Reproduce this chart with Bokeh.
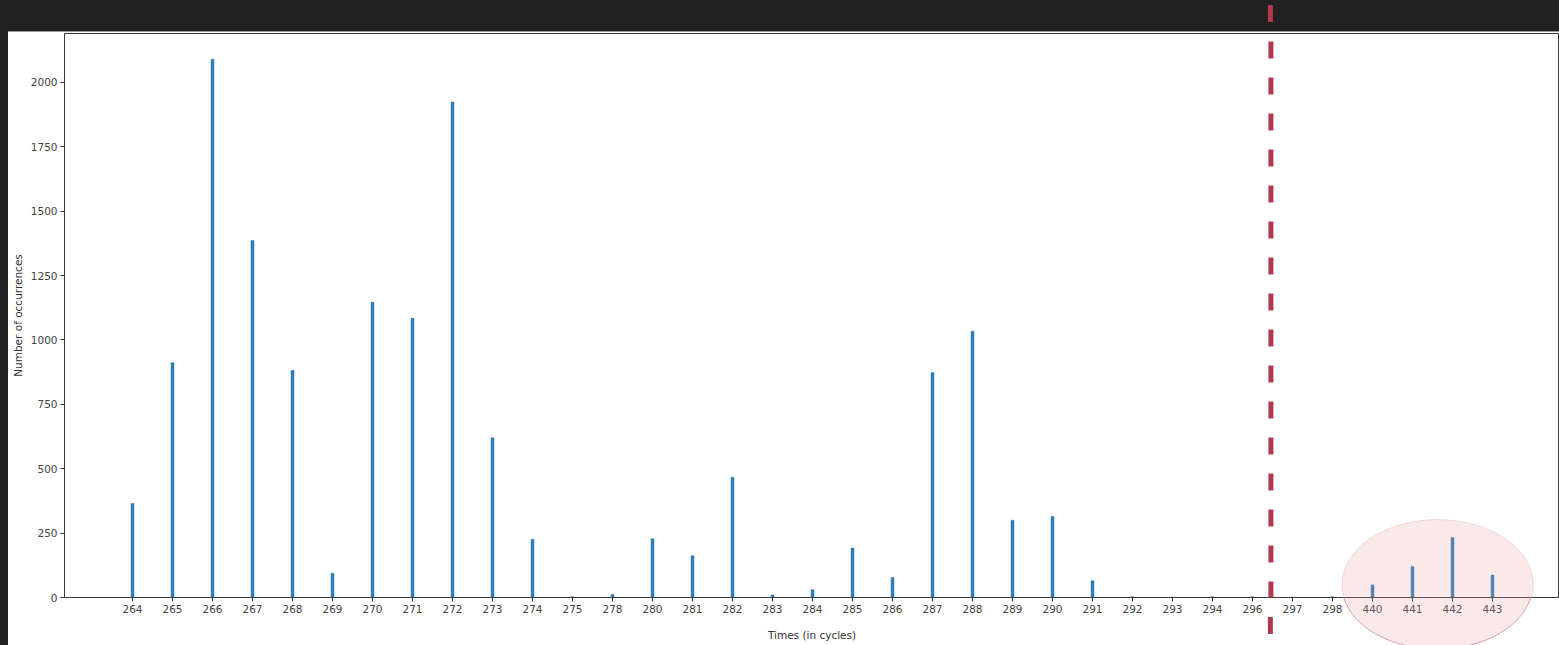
import numpy as np
from bokeh.plotting import figure
from bokeh.models import Range1d, FixedTicker, Arrow, PolyAnnotation, Div
from bokeh.layouts import column
from bokeh.embed import file_html
from bokeh.resources import INLINE

# ---------------- data ----------------
cycles = ["264", "265", "266", "267", "268", "269", "270", "271", "272", "273",
          "274", "275", "278", "280", "281", "282", "283", "284", "285", "286",
          "287", "288", "289", "290", "291", "292", "293", "294", "296", "297",
          "298", "440", "441", "442", "443"]
occurrences = [365, 912, 2090, 1386, 882, 94, 1146, 1084, 1924, 620,
               226, 3, 12, 228, 162, 467, 10, 30, 192, 78,
               873, 1034, 300, 315, 65, 3, 2, 3, 3, 2,
               3, 49, 120, 233, 87]
y_ticks = [0, 250, 500, 750, 1000, 1250, 1500, 1750, 2000]

# annotation positions (category-index units / value units)
threshold_pos = 28.46            # dashed separator between 296 and 297
highlight_center = (32.63, 50)   # ellipse around 440-443
highlight_size = (4.78, 505)

FONT = "DejaVu Sans"
W, H = 1559, 645
B_LEFT, B_TOP, B_BOTTOM = 64, 33, 48
X0, X1 = -1.7, 35.675
Y0, Y1 = 0, 2190
xpos = list(range(len(cycles)))

fw = W - B_LEFT
fh = H - B_TOP - B_BOTTOM
def sx(v):
    return B_LEFT + (v - X0) / (X1 - X0) * fw
def sy(v):
    return B_TOP + (Y1 - v) / (Y1 - Y0) * fh
def vy(py):
    return Y1 - (py - B_TOP) / fh * (Y1 - Y0)

p = figure(width=W, height=H, output_backend="svg", toolbar_location=None,
           x_range=Range1d(X0, X1), y_range=Range1d(Y0, Y1),
           min_border_left=B_LEFT, min_border_right=0, min_border_top=B_TOP,
           min_border_bottom=B_BOTTOM)
p.border_fill_color = "white"
p.background_fill_color = "white"
p.outline_line_color = "#3a3a3a"
p.outline_line_width = 1
p.grid.visible = False

p.vbar(x=xpos, top=occurrences, width=0.075, fill_color="#2f7cb6",
       line_color="#2f7cb6", line_width=0.5)

# axes
p.xaxis.ticker = FixedTicker(ticks=xpos)
p.xaxis.major_label_overrides = {i: c for i, c in enumerate(cycles)}
p.yaxis.ticker = FixedTicker(ticks=y_ticks)
for ax in (p.xaxis[0], p.yaxis[0]):
    ax.minor_tick_line_color = None
    ax.major_tick_in = 0
    ax.major_tick_out = 4
    ax.major_tick_line_color = "#333333"
    ax.axis_line_color = "#3a3a3a"
    ax.major_label_text_font = FONT
    ax.major_label_text_font_size = "10.5px"
    ax.major_label_text_color = "#444444"
    ax.major_label_standoff = 3
    ax.axis_label_text_font = FONT
    ax.axis_label_text_font_size = "10.5px"
    ax.axis_label_text_font_style = "normal"
    ax.axis_label_text_color = "#333333"
p.xaxis.axis_label = "Times (in cycles)"
p.xaxis.axis_label_standoff = 13
p.yaxis.axis_label = "Number of occurrences"
p.yaxis.axis_label_standoff = 4

# highlight ellipse (inside the plot frame)
cx, cy = highlight_center
rx, ry = highlight_size[0] / 2, highlight_size[1] / 2
theta = np.linspace(0, 2 * np.pi, 160)
ELL_FILL, ELL_ALPHA, ELL_LINE = "#e89a9a", 0.22, "#dba0a0"
p.add_layout(PolyAnnotation(xs=list(cx + rx * np.cos(theta)),
                            ys=list(cy + ry * np.sin(theta)),
                            fill_color=ELL_FILL, fill_alpha=ELL_ALPHA,
                            line_color=ELL_LINE, line_width=1))

# dashed threshold line (dash phase starts at the top of the window)
LINE_COLOR = "#b03c4b"
p.add_layout(Arrow(x_start=threshold_pos, y_start=vy(5), x_end=threshold_pos,
                   y_end=vy(637), end=None, line_color=LINE_COLOR, line_width=5,
                   line_dash="17 19"))

# ---- overlay for the parts that lie outside the plot frame ----
ex, ey = sx(cx), sy(cy)
erx = rx / (X1 - X0) * fw
ery = ry / (Y1 - Y0) * fh
lx = sx(threshold_pos)
frame_bottom = sy(Y0)
svg = f'''<svg width="{W}" height="{H}" xmlns="http://www.w3.org/2000/svg" style="display:block">
<defs><clipPath id="below"><rect x="0" y="{frame_bottom + 0.5}" width="{W}" height="{H}"/></clipPath></defs>
<rect x="0" y="0" width="{W}" height="31" fill="#212121"/>
<rect x="0" y="0" width="8" height="{H}" fill="#212121"/>
<rect x="8" y="31" width="{W}" height="1" fill="#9a9a9a"/>
<g clip-path="url(#below)">
<ellipse cx="{ex:.2f}" cy="{ey:.2f}" rx="{erx:.2f}" ry="{ery:.2f}" fill="{ELL_FILL}" fill-opacity="{ELL_ALPHA}" stroke="{ELL_LINE}" stroke-width="1"/>
</g>
<line x1="{lx:.2f}" y1="5" x2="{lx:.2f}" y2="22" stroke="{LINE_COLOR}" stroke-width="5"/>
<line x1="{lx:.2f}" y1="617" x2="{lx:.2f}" y2="634" stroke="{LINE_COLOR}" stroke-width="5"/>
</svg>'''
overlay = Div(text=svg, width=W, height=H, margin=0,
              styles={"position": "absolute", "left": "0px", "top": "0px",
                      "pointer-events": "none", "z-index": "10"})

layout = column(p, overlay, margin=0)
html = file_html(layout, INLINE, title="plot")
open("out.html", "w").write(html)
